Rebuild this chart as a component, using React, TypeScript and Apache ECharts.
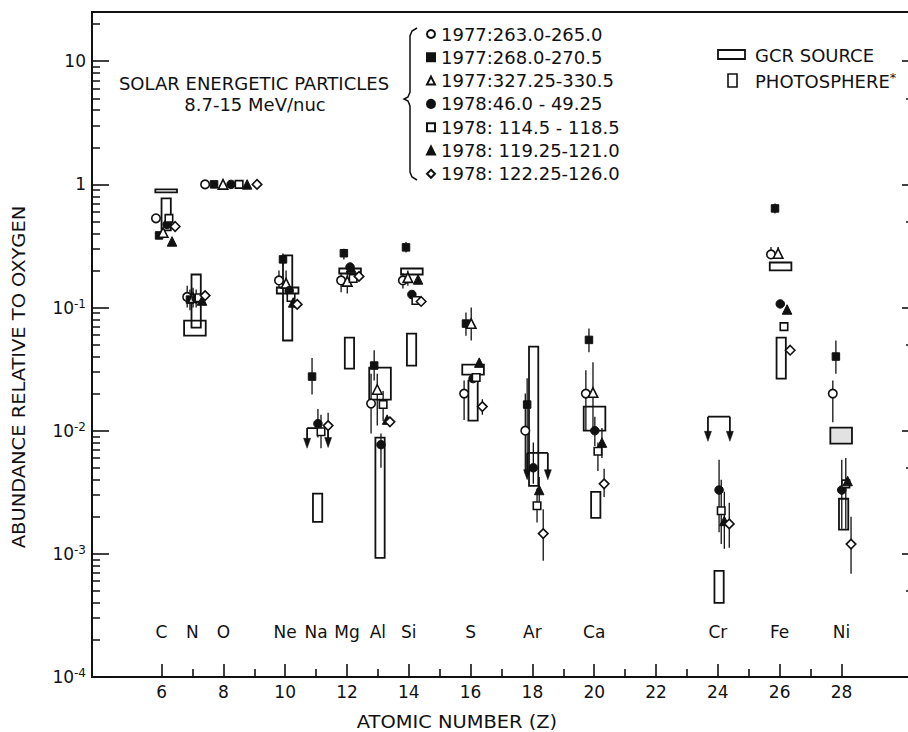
import React, { useEffect, useRef } from "react";
import * as echarts from "echarts";

const FONT = "DejaVu Sans";
const INK = "#111";

// ---- legend / series definitions ----
const seriesNames = [
  "1977:263.0-265.0",
  "1977:268.0-270.5",
  "1977:327.25-330.5",
  "1978:46.0 - 49.25",
  "1978: 114.5 - 118.5",
  "1978: 119.25-121.0",
  "1978: 122.25-126.0",
];
const seriesSymbols = ["circle", "rect", "triangle", "circle", "rect", "triangle", "diamond"];
const seriesFilled = [false, true, false, true, false, true, false];
const seriesSymbolSize = [8.5, 7.5, 9.5, 8.5, 7.5, 9.5, 9.5];

// [plotted Z, abundance relative to O, error low, error high]
const sep1977a = [
  [5.82, 0.53, null, null],
  [6.83, 0.122, 0.1, 0.15],
  [7.41, 1.0, null, null],
  [9.8, 0.166, 0.143, 0.2],
  [11.81, 0.166, 0.133, 0.19],
  [12.78, 0.0166, 0.0095, 0.029],
  [13.81, 0.166, 0.143, 0.19],
  [15.79, 0.02, 0.0122, 0.0255],
  [17.77, 0.01, 0.0045, 0.02],
  [19.73, 0.02, 0.01, 0.031],
  [25.72, 0.27, 0.25, 0.31],
  [27.72, 0.02, 0.0117, 0.0256],
];
const sep1977b = [
  [5.92, 0.385, null, null],
  [6.92, 0.116, 0.095, 0.14],
  [7.7, 1.0, null, null],
  [9.93, 0.246, 0.22, 0.275],
  [10.87, 0.0275, 0.0197, 0.039],
  [11.9, 0.276, 0.246, 0.3],
  [12.88, 0.0338, 0.0255, 0.045],
  [13.91, 0.308, 0.28, 0.34],
  [15.85, 0.0741, 0.059, 0.091],
  [17.83, 0.0163, 0.0048, 0.0266],
  [19.83, 0.0546, 0.0433, 0.0675],
  [25.85, 0.638, 0.58, 0.7],
  [27.82, 0.04, 0.029, 0.054],
];
const sep1977c = [
  [6.05, 0.407, null, null],
  [7.02, 0.12, 0.1, 0.145],
  [7.99, 1.0, null, null],
  [10.03, 0.157, 0.135, 0.2],
  [12.01, 0.163, 0.13, 0.2],
  [12.98, 0.0216, 0.011, 0.029],
  [13.97, 0.175, 0.15, 0.2],
  [16.02, 0.0741, 0.054, 0.1],
  [19.96, 0.0204, 0.01, 0.036],
  [25.95, 0.275, 0.25, 0.31],
];
const sep1978a = [
  [6.18, 0.473, null, null],
  [7.12, 0.118, 0.1, 0.14],
  [8.25, 1.0, null, null],
  [10.13, 0.137, null, null],
  [11.06, 0.0114, 0.0088, 0.015],
  [12.1, 0.213, null, null],
  [13.1, 0.0077, 0.005, 0.0095],
  [14.1, 0.1276, null, null],
  [16.08, 0.0265, null, null],
  [18.03, 0.005, 0.0037, 0.008],
  [20.02, 0.01, 0.0075, 0.013],
  [24.04, 0.0033, 0.0015, 0.0058],
  [26.02, 0.107, null, null],
  [28.01, 0.0033, 0.0016, 0.0058],
];
const sep1978b = [
  [6.24, 0.53, null, null],
  [7.21, 0.12, null, null],
  [8.51, 1.0, null, null],
  [10.19, 0.1206, null, null],
  [11.16, 0.0098, 0.0072, 0.0135],
  [12.2, 0.172, null, null],
  [13.17, 0.0163, 0.012, 0.021],
  [14.23, 0.114, null, null],
  [16.18, 0.027, null, null],
  [18.15, 0.00246, 0.0018, 0.0034],
  [20.12, 0.0068, 0.0047, 0.008],
  [24.11, 0.00224, 0.0012, 0.004],
  [26.14, 0.07, 0.065, 0.076],
  [28.14, 0.0037, 0.0016, 0.006],
];
const sep1978c = [
  [6.34, 0.344, null, null],
  [7.31, 0.114, null, null],
  [8.77, 1.0, null, null],
  [10.26, 0.11, null, null],
  [12.13, 0.211, null, null],
  [13.3, 0.0123, null, null],
  [14.3, 0.169, null, null],
  [16.28, 0.0357, null, null],
  [18.22, 0.0033, 0.0025, 0.0042],
  [20.25, 0.008, 0.006, 0.0105],
  [24.21, 0.00185, 0.0011, 0.0032],
  [26.24, 0.0964, null, null],
  [28.2, 0.0039, null, null],
];
const sep1978d = [
  [6.44, 0.455, null, null],
  [7.41, 0.125, null, null],
  [9.09, 1.0, null, null],
  [10.39, 0.106, null, null],
  [11.39, 0.011, 0.0085, 0.014],
  [12.39, 0.179, null, null],
  [13.39, 0.0118, null, null],
  [14.4, 0.112, null, null],
  [16.38, 0.0157, 0.0135, 0.018],
  [18.35, 0.00146, 0.00088, 0.0023],
  [20.32, 0.0037, 0.0029, 0.0049],
  [24.37, 0.00175, 0.00112, 0.0026],
  [26.34, 0.045, null, null],
  [28.31, 0.0012, 0.00069, 0.002],
];
const sepSeries = [sep1977a, sep1977b, sep1977c, sep1978a, sep1978b, sep1978c, sep1978d];

// GCR source boxes: [Z, low, high, stippled]
const gcrBoxes = [
  [6.15, 0.861, 0.911, 0],
  [7.08, 0.0592, 0.0784, 0],
  [10.08, 0.13, 0.1455, 0],
  [12.1, 0.189, 0.2075, 0],
  [13.07, 0.01787, 0.0325, 0],
  [14.1, 0.1855, 0.2075, 0],
  [16.08, 0.0285, 0.0344, 0],
  [20.01, 0.01, 0.01567, 0],
  [26.03, 0.2, 0.232, 0],
  [27.99, 0.00784, 0.01057, 1],
];
// Photosphere boxes: [Z, low, high]
const photoBoxes = [
  [6.15, 0.423, 0.769],
  [7.12, 0.0688, 0.1855],
  [10.08, 0.054, 0.265],
  [11.05, 0.00182, 0.00308],
  [12.08, 0.0319, 0.057],
  [13.07, 0.000927, 0.00877],
  [14.09, 0.0338, 0.0615],
  [16.08, 0.01205, 0.0255],
  [18.04, 0.00357, 0.0482],
  [20.05, 0.00196, 0.00319],
  [24.04, 0.0004, 0.000727],
  [26.05, 0.0265, 0.057],
  [28.07, 0.00157, 0.0028],
];
// upper-limit brackets: [Z left, Z right, level]
const limitBrackets = [
  [10.71, 11.06, 0.0105],
  [17.83, 18.5, 0.0066],
  [23.68, 24.39, 0.013],
];
// upper-limit arrows: [Z, from, to]
const limitArrows = [
  [10.71, 0.0105, 0.0072],
  [11.39, 0.011, 0.0073],
  [17.83, 0.0066, 0.004],
  [18.5, 0.0066, 0.004],
  [23.68, 0.013, 0.0082],
  [24.39, 0.013, 0.0082],
];

const elementNames = ["C", "N", "O", "Ne", "Na", "Mg", "Al", "Si", "S", "Ar", "Ca", "Cr", "Fe", "Ni"];
const elementZ = [6, 7, 8, 10, 11, 12, 13, 14, 16, 18, 20, 24, 26, 28];
const elementLabelLevel = 2.3e-4;

const xMajorTicks = [6, 8, 10, 12, 14, 16, 18, 20, 22, 24, 26, 28];
const xMinorTicks = [7, 9, 11, 13, 15, 17, 19, 21, 23, 25, 27];
const yMajorTicks = [1e-4, 1e-3, 1e-2, 1e-1, 1, 10];
const yMinorMultipliers = [2, 3, 4, 5, 6, 7, 8, 9];
const yRightMinorTicks = [5e-4, 5e-3, 5e-2, 0.5, 5];

const Z_MIN = 3.75;
const Z_MAX = 30.25;
const Y_MIN = 1e-4;
const Y_MAX = 25.1;

function buildOption() {
  const yMinorTicks: number[] = [];
  yMajorTicks.forEach((d) => {
    yMinorMultipliers.forEach((m) => {
      const v = Number((m * d).toPrecision(6));
      if (v < Y_MAX) yMinorTicks.push(v);
    });
  });

  const errorData: number[][] = [];
  sepSeries.forEach((s) =>
    s.forEach((p) => {
      if (p[2] != null && p[3] != null) errorData.push([p[0] as number, p[2] as number, p[3] as number]);
    })
  );

  const boxRender = (w: number) => (params: any, api: any) => {
    const z = api.value(0);
    const lo = api.value(1);
    const hi = api.value(2);
    const shade = api.value(3);
    const a = api.coord([z - w / 2, hi]);
    const b = api.coord([z + w / 2, lo]);
    return {
      type: "rect",
      shape: { x: a[0], y: a[1], width: b[0] - a[0], height: b[1] - a[1] },
      style: { fill: shade === 1 ? "#e2e2e2" : "none", stroke: INK, lineWidth: 1.8 },
    };
  };

  const scatterSeries = sepSeries.map((s, i) => ({
    type: "scatter",
    name: seriesNames[i],
    data: s.map((p) => [p[0], p[1]]),
    symbol: seriesSymbols[i],
    symbolSize: seriesSymbolSize[i],
    itemStyle: seriesFilled[i]
      ? { color: INK, borderColor: INK, borderWidth: 1, opacity: 1 }
      : { color: "#fff", borderColor: INK, borderWidth: 1.6, opacity: 1 },
    z: 6,
  }));

  const yLabelFormatter = (v: number) => {
    const e = Math.round(Math.log10(v));
    if (e === 0) return "{n|1}";
    if (e === 1) return "{n|10}";
    return "{n|10}{s|" + e + "}";
  };

  const axisCommon = {
    splitLine: { show: false },
    minorTick: { show: false },
    minorSplitLine: { show: false },
  };

  return {
    animation: false,
    backgroundColor: "#fff",
    grid: {
      left: 92,
      right: 1,
      top: 12,
      bottom: 55,
      show: true,
      borderColor: INK,
      borderWidth: 1.8,
      backgroundColor: "transparent",
    },
    legend: {
      data: seriesNames,
      orient: "vertical",
      left: 421,
      top: 20,
      itemWidth: 8,
      itemHeight: 8,
      itemGap: 5.3,
      selectedMode: false,
      textStyle: { fontFamily: FONT, fontSize: 18, color: INK, lineHeight: 18, padding: [0, 0, 0, 1] },
    },
    xAxis: [
      {
        type: "value",
        min: Z_MIN,
        max: Z_MAX,
        position: "bottom",
        axisLine: { show: true, lineStyle: { color: INK, width: 2 } },
        axisTick: { show: true, inside: true, length: 13, customValues: xMajorTicks, lineStyle: { color: INK, width: 1.6 } },
        axisLabel: { show: true, customValues: xMajorTicks, margin: 6, fontFamily: FONT, fontSize: 17, color: INK },
        ...axisCommon,
      },
      {
        type: "value",
        min: Z_MIN,
        max: Z_MAX,
        position: "bottom",
        axisLine: { show: false },
        axisTick: { show: true, inside: true, length: 8, customValues: xMinorTicks, lineStyle: { color: INK, width: 1.6 } },
        axisLabel: { show: false },
        ...axisCommon,
      },
    ],
    yAxis: [
      {
        type: "log",
        logBase: 10,
        min: Y_MIN,
        max: Y_MAX,
        position: "left",
        axisLine: { show: true, lineStyle: { color: INK, width: 2 } },
        axisTick: { show: true, inside: true, length: 17, customValues: yMajorTicks, lineStyle: { color: INK, width: 1.6 } },
        axisLabel: {
          show: true,
          customValues: yMajorTicks,
          margin: 6,
          formatter: yLabelFormatter,
          rich: {
            n: { fontFamily: FONT, fontSize: 17, color: INK },
            s: { fontFamily: FONT, fontSize: 12, color: INK, padding: [0, 0, 8, 0] },
          },
        },
        ...axisCommon,
      },
      {
        type: "log",
        logBase: 10,
        min: Y_MIN,
        max: Y_MAX,
        position: "left",
        axisLine: { show: false },
        axisTick: { show: true, inside: true, length: 8, customValues: yMinorTicks, lineStyle: { color: INK, width: 1.5 } },
        axisLabel: { show: false },
        ...axisCommon,
      },
      {
        type: "log",
        logBase: 10,
        min: Y_MIN,
        max: Y_MAX,
        position: "right",
        axisLine: { show: false },
        axisTick: { show: true, inside: true, length: 9, customValues: yMajorTicks, lineStyle: { color: INK, width: 1.6 } },
        axisLabel: { show: false },
        ...axisCommon,
      },
      {
        type: "log",
        logBase: 10,
        min: Y_MIN,
        max: Y_MAX,
        position: "right",
        axisLine: { show: false },
        axisTick: { show: true, inside: true, length: 5, customValues: yRightMinorTicks, lineStyle: { color: INK, width: 1.5 } },
        axisLabel: { show: false },
        ...axisCommon,
      },
    ],
    graphic: [
      {
        type: "text",
        x: 254,
        y: 83,
        style: { text: "SOLAR ENERGETIC PARTICLES", fontFamily: FONT, fontSize: 18, fill: INK, align: "center", verticalAlign: "middle" },
      },
      {
        type: "text",
        x: 255,
        y: 104,
        style: { text: "8.7-15 MeV/nuc", fontFamily: FONT, fontSize: 18, fill: INK, align: "center", verticalAlign: "middle" },
      },
      {
        type: "polyline",
        shape: {
          points: [
            [417, 28], [412, 31], [410, 36], [410, 92], [408, 97], [404, 99],
            [408, 101], [410, 106], [410, 172], [412, 177], [417, 180],
          ],
        },
        style: { stroke: INK, lineWidth: 1.5, fill: "none" },
      },
      {
        type: "rect",
        shape: { x: 718, y: 50, width: 27, height: 9 },
        style: { stroke: INK, lineWidth: 1.8, fill: "none" },
      },
      {
        type: "text",
        x: 755,
        y: 55,
        style: { text: "GCR SOURCE", fontFamily: FONT, fontSize: 18, fill: INK, align: "left", verticalAlign: "middle" },
      },
      {
        type: "rect",
        shape: { x: 728, y: 74, width: 9, height: 13 },
        style: { stroke: INK, lineWidth: 1.6, fill: "none" },
      },
      {
        type: "text",
        x: 755,
        y: 81,
        style: {
          text: "{a|PHOTOSPHERE}{s|*}",
          align: "left",
          verticalAlign: "middle",
          rich: {
            a: { fontFamily: FONT, fontSize: 18, fill: INK },
            s: { fontFamily: FONT, fontSize: 13, fill: INK, padding: [0, 0, 8, 0] },
          },
        },
      },
      {
        type: "text",
        x: 19,
        y: 377,
        rotation: Math.PI / 2,
        scaleX: 1.08,
        style: { text: "ABUNDANCE RELATIVE TO OXYGEN", fontFamily: FONT, fontSize: 18, fill: INK, align: "center", verticalAlign: "middle" },
      },
      {
        type: "text",
        x: 457,
        y: 722,
        scaleX: 1.08,
        style: { text: "ATOMIC NUMBER (Z)", fontFamily: FONT, fontSize: 18, fill: INK, align: "center", verticalAlign: "middle" },
      },
    ],
    series: [
      {
        type: "custom",
        name: "GCR SOURCE",
        data: gcrBoxes,
        renderItem: boxRender(0.7),
        z: 2,
        silent: true,
      },
      {
        type: "custom",
        name: "PHOTOSPHERE*",
        data: photoBoxes,
        renderItem: boxRender(0.3),
        z: 2,
        silent: true,
      },
      {
        type: "custom",
        name: "error bars",
        data: errorData,
        renderItem: (params: any, api: any) => {
          const a = api.coord([api.value(0), api.value(1)]);
          const b = api.coord([api.value(0), api.value(2)]);
          return { type: "line", shape: { x1: a[0], y1: a[1], x2: b[0], y2: b[1] }, style: { stroke: INK, lineWidth: 1.3 } };
        },
        z: 4,
        silent: true,
      },
      {
        type: "custom",
        name: "limit brackets",
        data: limitBrackets,
        encode: { x: [0, 1], y: 2 },
        renderItem: (params: any, api: any) => {
          const a = api.coord([api.value(0), api.value(2)]);
          const b = api.coord([api.value(1), api.value(2)]);
          return { type: "line", shape: { x1: a[0], y1: a[1], x2: b[0], y2: b[1] }, style: { stroke: INK, lineWidth: 1.8 } };
        },
        z: 4,
        silent: true,
      },
      {
        type: "custom",
        name: "limit arrows",
        data: limitArrows,
        encode: { x: 0, y: [1, 2] },
        renderItem: (params: any, api: any) => {
          const a = api.coord([api.value(0), api.value(1)]);
          const b = api.coord([api.value(0), api.value(2)]);
          return {
            type: "group",
            children: [
              { type: "line", shape: { x1: a[0], y1: a[1], x2: b[0], y2: b[1] - 4 }, style: { stroke: INK, lineWidth: 1.8 } },
              {
                type: "polygon",
                shape: { points: [[b[0] - 3.5, b[1] - 10], [b[0] + 3.5, b[1] - 10], [b[0], b[1]]] },
                style: { fill: INK, stroke: INK, lineWidth: 0.5 },
              },
            ],
          };
        },
        z: 4,
        silent: true,
      },
      {
        type: "custom",
        name: "elements",
        data: elementZ.map((z, i) => [z, elementLabelLevel, i]),
        renderItem: (params: any, api: any) => {
          const p = api.coord([api.value(0), api.value(1)]);
          return {
            type: "text",
            x: p[0],
            y: p[1],
            style: {
              text: elementNames[api.value(2)],
              fontFamily: FONT,
              fontSize: 17,
              fill: INK,
              align: "center",
              verticalAlign: "middle",
            },
          };
        },
        z: 4,
        silent: true,
      },
      ...scatterSeries,
    ],
  };
}

export default function App() {
  const ref = useRef<HTMLDivElement>(null);
  useEffect(() => {
    if (!ref.current) return;
    const chart = echarts.init(ref.current, null, { renderer: "svg" });
    chart.setOption(buildOption() as any);
    return () => chart.dispose();
  }, []);
  return (
    <div
      style={{ position: "fixed", left: 0, top: 0, width: 908, height: 732, overflow: "hidden", background: "#fff" }}
    >
      <div ref={ref} style={{ width: 912, height: 732 }} />
    </div>
  );
}
